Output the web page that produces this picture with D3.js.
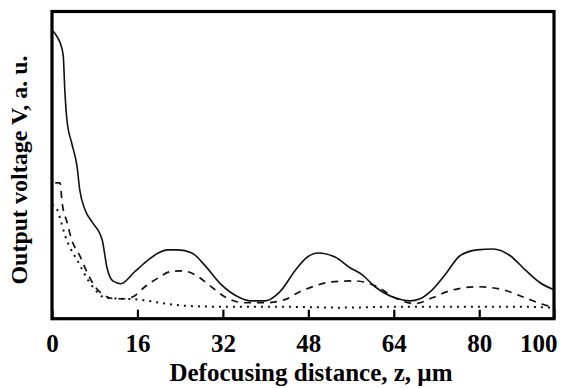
<!DOCTYPE html>
<html>
<head>
<meta charset="utf-8">
<script src="https://cdn.jsdelivr.net/npm/d3@7"></script>
<style>
  body { margin: 0; background: #fff; }
  svg { display: block; }
  text { font-family: "Liberation Serif", "DejaVu Serif", serif; font-weight: bold; fill: #000; }
</style>
</head>
<body>
<svg id="chart" width="563" height="388"></svg>
<script>
// defocusing distance z (um) and output voltage (a.u.)
const solidZ = [0, 0.2, 0.9, 1.5, 2.1, 2.4, 2.8, 3.7, 4.7, 5.2, 6.2, 7.5, 9.4, 10.3, 11.4, 12.9, 15.5, 17.8, 19.9, 21.7, 23.6, 26.2, 28.7, 31.5, 35.2, 37.1, 39.9, 42.7, 45.5, 47.4, 49.8, 53.0, 55.8, 58.1, 60.5, 64.2, 67.0, 68.9, 71.2, 73.6, 76.4, 79.6, 82.6, 85.8, 88.6, 91.4, 94.0];
const solidV = [93.2, 93.5, 91.9, 89.9, 85.7, 74.4, 64.6, 57.1, 49.4, 41.9, 35.4, 31.5, 25.6, 16.6, 12.3, 11.4, 15.3, 18.8, 21.4, 22.4, 22.4, 21.4, 17.2, 11.4, 6.8, 5.8, 5.8, 8.8, 15.6, 19.5, 21.4, 20.1, 16.6, 14.3, 10.4, 6.8, 5.8, 6.5, 9.4, 14.3, 20.5, 22.4, 22.7, 20.5, 15.9, 11.7, 9.4];

const dashZ = [0.6, 1.5, 1.9, 2.8, 3.7, 5.2, 6.7, 8.2, 9.9, 11.8, 13.7, 15.5, 17.4, 19.9, 22.1, 24.3, 26.8, 29.6, 32.4, 36.1, 39.9, 43.6, 46.4, 49.3, 52.4, 56.7, 60.9, 64.2, 68.0, 71.2, 74.5, 79.8, 84.5, 88.6, 92.9, 94.0];
const dashV = [44.2, 44.2, 37.7, 31.5, 25.6, 20.5, 14.6, 10.1, 7.5, 6.5, 6.5, 7.5, 10.4, 13.3, 15.3, 15.6, 14.3, 10.7, 7.1, 5.2, 5.2, 6.2, 8.8, 10.7, 12.0, 12.3, 10.4, 6.8, 4.9, 6.8, 9.1, 10.4, 9.4, 6.8, 4.2, 3.9];

const dotZ = [0, 0.7, 1.5, 2.4, 3.4, 4.9, 6.7, 8.4, 9.9, 12.7, 16.5, 20.2, 24.9, 31.5, 42.7, 53.9, 65.2, 76.4, 87.6, 94.0];
const dotV = [37.0, 36.4, 32.8, 27.3, 23.1, 18.5, 12.7, 8.8, 6.8, 6.5, 6.2, 5.2, 4.2, 3.9, 3.9, 3.6, 3.9, 3.9, 3.9, 3.6];

// axis of the original is not evenly spaced, last label sits at the frame edge
const tickPos = [0, 16, 32, 48, 64, 80, 94];
const tickLabels = ["0", "16", "32", "48", "64", "80", "100"];

const chart = d3.select("#chart");
const margin = { left: 52, right: 9, top: 11.5, bottom: 69.3 };
const width = 563, height = 388;

const x = d3.scaleLinear().domain([0, 94]).range([margin.left, width - margin.right]);
const y = d3.scaleLinear().domain([0, 100]).range([height - margin.bottom, margin.top]);

const toPts = (zs, vs) => zs.map((z, i) => [z, vs[i]]);
const line = d3.line().x(d => x(d[0])).y(d => y(d[1])).curve(d3.curveMonotoneX);

const series = [
    { pts: toPts(solidZ, solidV), dash: null, w: 1.6 },
    { pts: toPts(dashZ, dashV), dash: "7,6", w: 1.7 },
    { pts: toPts(dotZ, dotV), dash: "2,5", w: 2 }
];

chart.append("g").selectAll("path")
    .data(series)
    .enter().append("path")
        .attr("d", d => line(d.pts))
        .attr("fill", "none")
        .attr("stroke", "#111")
        .attr("stroke-width", d => d.w)
        .attr("stroke-dasharray", d => d.dash);

// x axis: inward ticks, labels below
let xAxis = d3.axisBottom(x)
    .tickValues(tickPos)
    .tickSizeInner(-9)
    .tickSizeOuter(0)
    .tickPadding(16)
    .tickFormat((d, i) => tickLabels[i]);
let gx = chart.append("g")
    .attr("transform", "translate(0," + (height - margin.bottom) + ")")
    .call(xAxis);
gx.select(".domain").remove();
gx.selectAll(".tick line").attr("stroke", "#000").attr("stroke-width", 2.2);
gx.selectAll(".tick text")
    .attr("font-size", 25)
    .attr("fill", "#000")
    .attr("text-anchor", (d, i) => i == tickPos.length - 1 ? "end" : "middle")
    .attr("dx", (d, i) => i == tickPos.length - 1 ? 3 : 0)
    .style("font-family", "'Liberation Serif', serif")
    .style("font-weight", "bold");

// frame
chart.append("rect")
    .attr("x", margin.left)
    .attr("y", margin.top)
    .attr("width", width - margin.right - margin.left)
    .attr("height", height - margin.bottom - margin.top)
    .attr("fill", "none")
    .attr("stroke", "#000")
    .attr("stroke-width", 3.2);

chart.append("text")
    .attr("x", 311)
    .attr("y", 381)
    .attr("text-anchor", "middle")
    .attr("font-size", 25)
    .text("Defocusing distance, z, \u00b5m");

chart.append("text")
    .attr("transform", "translate(27,170) rotate(-90)")
    .attr("text-anchor", "middle")
    .attr("font-size", 24)
    .text("Output voltage V, a. u.");
</script>
</body>
</html>
